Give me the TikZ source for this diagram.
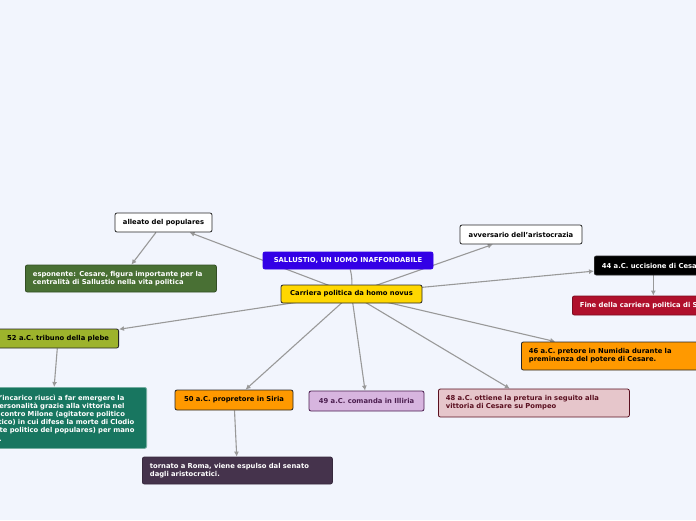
\documentclass[tikz,border=0pt]{standalone}
\usepackage{fontspec}
\setmainfont{DejaVu Sans}
\usepackage{xcolor}
\usetikzlibrary{arrows.meta,backgrounds}

\definecolor{bgcol}{HTML}{F2F5FD}
\definecolor{mainblue}{HTML}{3300E6}
\definecolor{yel}{HTML}{FFD700}
\definecolor{leaf}{HTML}{497034}
\definecolor{redfine}{HTML}{B0102C}
\definecolor{olive}{HTML}{9DB32C}
\definecolor{teal2}{HTML}{187660}
\definecolor{orng}{HTML}{FF9900}
\definecolor{plum}{HTML}{45334C}
\definecolor{lilac}{HTML}{D7B5DF}
\definecolor{lilactext}{HTML}{4B1E4F}
\definecolor{rosa}{HTML}{E6C6CB}
\definecolor{rosatext}{HTML}{5A1020}

\begin{document}
\begin{tikzpicture}[x=1pt, y=-1pt,
  font=\fontsize{6.8}{8.2}\selectfont\bfseries,
  box/.style={draw=black!85, rounded corners=2pt, line width=0.8pt, inner xsep=7.5pt, inner ysep=2pt, minimum height=19pt},
  note/.style={box, align=left, text width=176pt, minimum height=27pt},
  ar/.style={-{Latex[length=5pt, width=5pt]}, draw=gray!80, line width=1.1pt}]
\useasboundingbox (0,0) rectangle (696,520);
% ---- centre
\node[box, fill=mainblue, draw=mainblue, text=white, minimum width=170pt, minimum height=17pt] (main) at (348,260.5) {SALLUSTIO, UN UOMO INAFFONDABILE};
\node[box, fill=yel, minimum width=141pt, minimum height=18pt] (carr) at (351.5,294) {Carriera politica da homo novus};
% ---- upper branches
\node[box, fill=white, minimum width=97pt] (alleato) at (163.5,222.5) {alleato del populares};
\node[note, fill=leaf, draw=leaf!70!black, text=white, anchor=west] (espo) at (25,278.5) {esponente: Cesare, figura importante per la\\ centralità di Sallustio nella vita politica};
\node[box, fill=white, minimum width=122pt] (avv) at (521,234.5) {avversario dell'aristocrazia};
\node[box, fill=black, text=white, anchor=west] (f44) at (594,265.5) {44 a.C. uccisione di Cesare};
\node[box, fill=redfine, draw=redfine!70!black, text=white, anchor=west] (fine) at (572,305.5) {Fine della carriera politica di Sallustio};
% ---- lower branches
\node[box, fill=olive, anchor=east, minimum width=121pt] (f52) at (119,338.5) {52 a.C. tribuno della plebe};
\node[note, fill=teal2, draw=teal2!60!white, text=white, text width=175pt, anchor=north east, minimum height=61pt] (teal) at (147,387) {Durante l'incarico riuscì a far emergere la\\ propria personalità grazie alla vittoria nel\\ processo contro Milone (agitatore politico\\ aristocratico) in cui difese la morte di Clodio\\ (esponente politico del populares) per mano\\ di Milone.};
\node[box, fill=orng, minimum width=118pt, minimum height=20pt] (f50) at (234,400) {50 a.C. propretore in Siria};
\node[note, fill=plum, draw=plum!80!black, text=white, text width=175pt, anchor=west] (torn) at (142,470.5) {tornato a Roma, viene espulso dal senato\\ dagli aristocratici.};
\node[box, fill=lilac, draw=lilactext, text=lilactext, minimum width=115pt, minimum height=20pt] (f49) at (366.5,401) {49 a.C. comanda in Illiria};
\node[note, fill=rosa, draw=rosatext, text=rosatext, anchor=west, minimum height=28pt] (f48) at (438,403) {48 a.C. ottiene la pretura in seguito alla\\ vittoria di Cesare su Pompeo};
\node[note, fill=orng, anchor=west, minimum height=28pt] (f46) at (521,356) {46 a.C. pretore in Numidia durante la\\ preminenza del potere di Cesare.};
% ---- connectors (behind the boxes)
\begin{pgfonlayer}{background}
\fill[bgcol] (0,0) rectangle (696,520);
\draw[draw=gray!80, line width=1.1pt] (main) to[bend left=8] (carr);
\foreach \t in {alleato,avv,f44,f46,f48,f49,f50,f52}
  \draw[ar] (carr.center) -- (\t);
\draw[ar] (alleato) -- (espo);
\draw[ar] (f44.south) -- (f44.south |- fine.north);
\draw[ar] (f52) -- (teal);
\draw[ar] (f50) -- (torn);
\end{pgfonlayer}
\end{tikzpicture}
\end{document}
